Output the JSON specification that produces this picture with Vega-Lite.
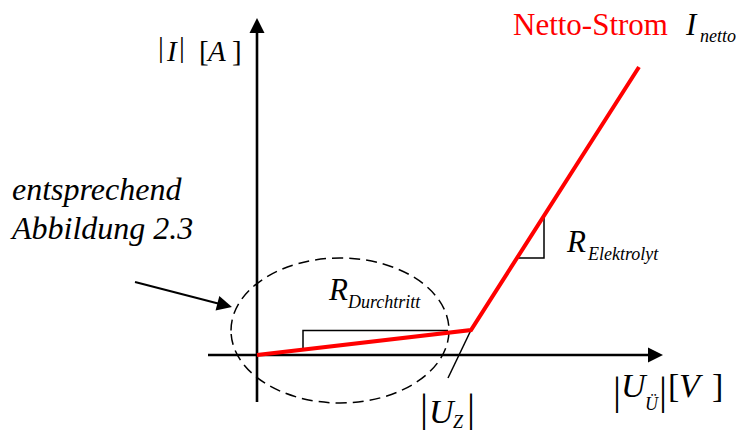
{
  "$schema": "https://vega.github.io/schema/vega-lite/v6.json",
  "width": 736,
  "height": 432,
  "autosize": {"type": "none"},
  "padding": 0,
  "background": "white",
  "config": {"view": {"stroke": null}},
  "datasets": {
    "axes": [
      {"u": 0, "i": -4.7, "u2": 0, "i2": 32.5},
      {"u": -4.9, "i": 0, "u2": 39.3, "i2": 0}
    ],
    "pointer": [{"u": -12.2, "i": 7.3, "u2": -3.5, "i2": 5.05}],
    "tangent": [{"u": 19.1, "i": -2.3, "u2": 21.4, "i2": 2.5}],
    "current": [
      {"step": 0, "u": 0, "i": 0},
      {"step": 1, "u": 21.4, "i": 2.5},
      {"step": 2, "u": 38.2, "i": 28.8}
    ],
    "slopes": [
      {"tri": "Durchtritt", "step": 0, "u": 4.6, "i": 0.54},
      {"tri": "Durchtritt", "step": 1, "u": 4.6, "i": 2.45},
      {"tri": "Durchtritt", "step": 2, "u": 19.1, "i": 2.45},
      {"tri": "Elektrolyt", "step": 0, "u": 25.98, "i": 9.7},
      {"tri": "Elektrolyt", "step": 1, "u": 28.7, "i": 9.7},
      {"tri": "Elektrolyt", "step": 2, "u": 28.7, "i": 13.95}
    ],
    "region": [{"u": 8.3, "i": 2.45}],
    "tipUp": [{"u": 0, "i": 32.95}],
    "tipRight": [{"u": 39.85, "i": 0}],
    "tipPointer": [{"u": -3.23, "i": 4.99}],
    "notes": [
      {"u": -24.5, "i": 15.5, "label": "entsprechend"},
      {"u": -24.5, "i": 11.6, "label": "Abbildung 2.3"}
    ],
    "labels31": [
      {"u": 7.2, "i": 5.5, "label": "R"},
      {"u": 31.0, "i": 10.3, "label": "R"},
      {"u": 42.9, "i": 32.0, "label": "I"}
    ],
    "labels29": [
      {"u": -9.0, "i": 29.4, "label": "I"},
      {"u": -4.9, "i": 29.4, "label": "A"}
    ],
    "labels34": [
      {"u": 36.4, "i": -4.2, "label": "U"},
      {"u": 42.2, "i": -4.2, "label": "V"},
      {"u": 17.2, "i": -6.8, "label": "U"}
    ],
    "subscripts": [
      {"u": 9.1, "i": 4.7, "label": "Durchtritt"},
      {"u": 33.1, "i": 9.5, "label": "Elektrolyt"},
      {"u": 44.3, "i": 31.3, "label": "netto"},
      {"u": 38.8, "i": -5.5, "label": "Ü"},
      {"u": 19.6, "i": -7.3, "label": "Z"}
    ],
    "brackets29": [
      {"u": -5.8, "i": 29.4, "label": "["},
      {"u": -2.5, "i": 29.4, "label": "]"}
    ],
    "brackets34": [
      {"u": 41.1, "i": -4.2, "label": "["},
      {"u": 45.5, "i": -4.2, "label": "]"}
    ],
    "bars29": [
      {"u": -9.6, "i": 29.8, "label": "|"},
      {"u": -7.5, "i": 29.8, "label": "|"}
    ],
    "bars40": [
      {"u": 36.0, "i": -4.9, "label": "|"},
      {"u": 40.6, "i": -4.9, "label": "|"},
      {"u": 16.7, "i": -6.6, "label": "|"},
      {"u": 21.4, "i": -6.6, "label": "|"}
    ],
    "title": [{"u": 25.6, "i": 32.0, "label": "Netto-Strom"}]
  },
  "encoding": {
    "x": {"field": "u", "type": "quantitative", "scale": {"domain": [-25.7, 47.9], "nice": false, "zero": false}, "axis": null},
    "y": {"field": "i", "type": "quantitative", "scale": {"domain": [-7.7, 35.5], "nice": false, "zero": false}, "axis": null}
  },
  "layer": [
    {
      "data": {"name": "region"},
      "mark": {"type": "point", "shape": "M-1,0C-1,-0.367,-0.552,-0.665,0,-0.665C0.552,-0.665,1,-0.367,1,0C1,0.367,0.552,0.665,0,0.665C-0.552,0.665,-1,0.367,-1,0Z", "size": 47524, "filled": false, "stroke": "black", "strokeWidth": 1.5, "strokeDash": [11, 6], "opacity": 1}
    },
    {
      "data": {"name": "axes"},
      "mark": {"type": "rule", "color": "black", "strokeWidth": 2.6},
      "encoding": {"x2": {"field": "u2"}, "y2": {"field": "i2"}}
    },
    {
      "data": {"name": "pointer"},
      "mark": {"type": "rule", "color": "black", "strokeWidth": 2},
      "encoding": {"x2": {"field": "u2"}, "y2": {"field": "i2"}}
    },
    {
      "data": {"name": "tangent"},
      "mark": {"type": "rule", "color": "black", "strokeWidth": 1.5},
      "encoding": {"x2": {"field": "u2"}, "y2": {"field": "i2"}}
    },
    {
      "data": {"name": "slopes"},
      "mark": {"type": "line", "color": "black", "strokeWidth": 1.5, "strokeJoin": "miter"},
      "encoding": {"detail": {"field": "tri"}, "order": {"field": "step", "type": "quantitative"}}
    },
    {
      "data": {"name": "current"},
      "mark": {"type": "line", "color": "#ff0000", "strokeWidth": 4, "strokeJoin": "miter"},
      "encoding": {"order": {"field": "step", "type": "quantitative"}}
    },
    {
      "data": {"name": "tipUp"},
      "mark": {"type": "point", "shape": "M0,-1L1,1L-1,1Z", "size": 225, "filled": true, "color": "black", "opacity": 1, "strokeWidth": 0}
    },
    {
      "data": {"name": "tipRight"},
      "mark": {"type": "point", "shape": "M0,-1L1,1L-1,1Z", "size": 225, "angle": 90, "filled": true, "color": "black", "opacity": 1, "strokeWidth": 0}
    },
    {
      "data": {"name": "tipPointer"},
      "mark": {"type": "point", "shape": "M0,-1L1,1L-1,1Z", "size": 225, "angle": 104.5, "filled": true, "color": "black", "opacity": 1, "strokeWidth": 0}
    },
    {
      "data": {"name": "notes"},
      "mark": {"type": "text", "font": "Liberation Serif", "fontStyle": "italic", "fontSize": 32, "align": "left", "baseline": "alphabetic", "color": "black"},
      "encoding": {"text": {"field": "label"}}
    },
    {
      "data": {"name": "labels31"},
      "mark": {"type": "text", "font": "Liberation Serif", "fontStyle": "italic", "fontSize": 31, "align": "left", "baseline": "alphabetic", "color": "black"},
      "encoding": {"text": {"field": "label"}}
    },
    {
      "data": {"name": "labels29"},
      "mark": {"type": "text", "font": "Liberation Serif", "fontStyle": "italic", "fontSize": 29, "align": "left", "baseline": "alphabetic", "color": "black"},
      "encoding": {"text": {"field": "label"}}
    },
    {
      "data": {"name": "labels34"},
      "mark": {"type": "text", "font": "Liberation Serif", "fontStyle": "italic", "fontSize": 34, "align": "left", "baseline": "alphabetic", "color": "black"},
      "encoding": {"text": {"field": "label"}}
    },
    {
      "data": {"name": "subscripts"},
      "mark": {"type": "text", "font": "Liberation Serif", "fontStyle": "italic", "fontSize": 18, "align": "left", "baseline": "alphabetic", "color": "black"},
      "encoding": {"text": {"field": "label"}}
    },
    {
      "data": {"name": "brackets29"},
      "mark": {"type": "text", "font": "Liberation Serif", "fontSize": 29, "align": "left", "baseline": "alphabetic", "color": "black"},
      "encoding": {"text": {"field": "label"}}
    },
    {
      "data": {"name": "brackets34"},
      "mark": {"type": "text", "font": "Liberation Serif", "fontSize": 34, "align": "left", "baseline": "alphabetic", "color": "black"},
      "encoding": {"text": {"field": "label"}}
    },
    {
      "data": {"name": "bars29"},
      "mark": {"type": "text", "font": "Liberation Serif", "fontSize": 29, "align": "center", "baseline": "alphabetic", "color": "black"},
      "encoding": {"text": {"field": "label"}}
    },
    {
      "data": {"name": "bars40"},
      "mark": {"type": "text", "font": "Liberation Serif", "fontSize": 40, "align": "center", "baseline": "alphabetic", "color": "black"},
      "encoding": {"text": {"field": "label"}}
    },
    {
      "data": {"name": "title"},
      "mark": {"type": "text", "font": "Liberation Serif", "fontSize": 31, "align": "left", "baseline": "alphabetic", "color": "#ff0000"},
      "encoding": {"text": {"field": "label"}}
    }
  ]
}
